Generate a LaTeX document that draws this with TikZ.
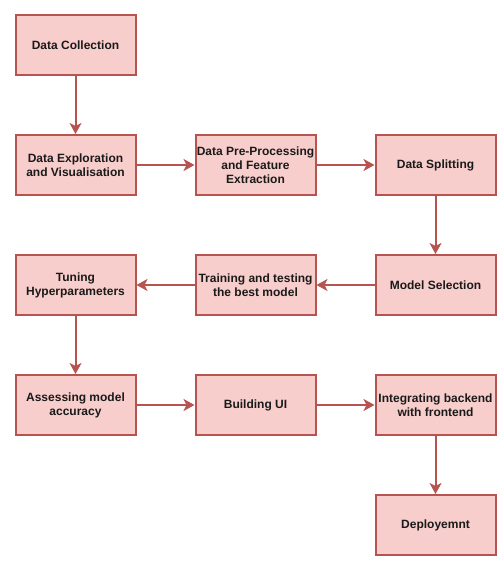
\documentclass[tikz,border=0pt]{standalone}
\usepackage{fontspec}
\setmainfont{Liberation Sans}
\usetikzlibrary{arrows.meta}
\definecolor{boxfill}{HTML}{F8CECC}
\definecolor{boxline}{HTML}{B85450}
\definecolor{txt}{HTML}{1A1A1A}
\begin{document}
\begin{tikzpicture}[x=1pt,y=-1pt,
  stepbox/.style={draw=boxline,fill=boxfill,line width=2pt,minimum width=120pt,minimum height=60pt,
    inner sep=0pt,align=center,font=\bfseries\fontsize{12}{14}\selectfont,text=txt},
  conn/.style={draw=boxline,line width=2pt,-{Stealth[length=11pt,width=12pt,inset=3pt]}}]
\useasboundingbox (0,0) rectangle (503,564);
\node[stepbox] (a) at (75.5,45) {Data Collection};
\node[stepbox] (b) at (75.5,165) {Data Exploration\\and Visualisation};
\node[stepbox] (c) at (255.5,165) {Data Pre-Processing\\and Feature\\Extraction};
\node[stepbox] (d) at (435.5,165) {Data Splitting};
\node[stepbox] (e) at (435.5,285) {Model Selection};
\node[stepbox] (f) at (255.5,285) {Training and testing\\the best model};
\node[stepbox] (g) at (75.5,285) {Tuning\\Hyperparameters};
\node[stepbox] (h) at (75.5,405) {Assessing model\\accuracy};
\node[stepbox] (i) at (255.5,405) {Building UI};
\node[stepbox] (j) at (435.5,405) {Integrating backend\\with frontend};
\node[stepbox] (k) at (435.5,525) {Deployemnt};
\draw[conn] (a) -- (b);
\draw[conn] (b) -- (c);
\draw[conn] (c) -- (d);
\draw[conn] (d) -- (e);
\draw[conn] (e) -- (f);
\draw[conn] (f) -- (g);
\draw[conn] (g) -- (h);
\draw[conn] (h) -- (i);
\draw[conn] (i) -- (j);
\draw[conn] (j) -- (k);
\end{tikzpicture}
\end{document}
